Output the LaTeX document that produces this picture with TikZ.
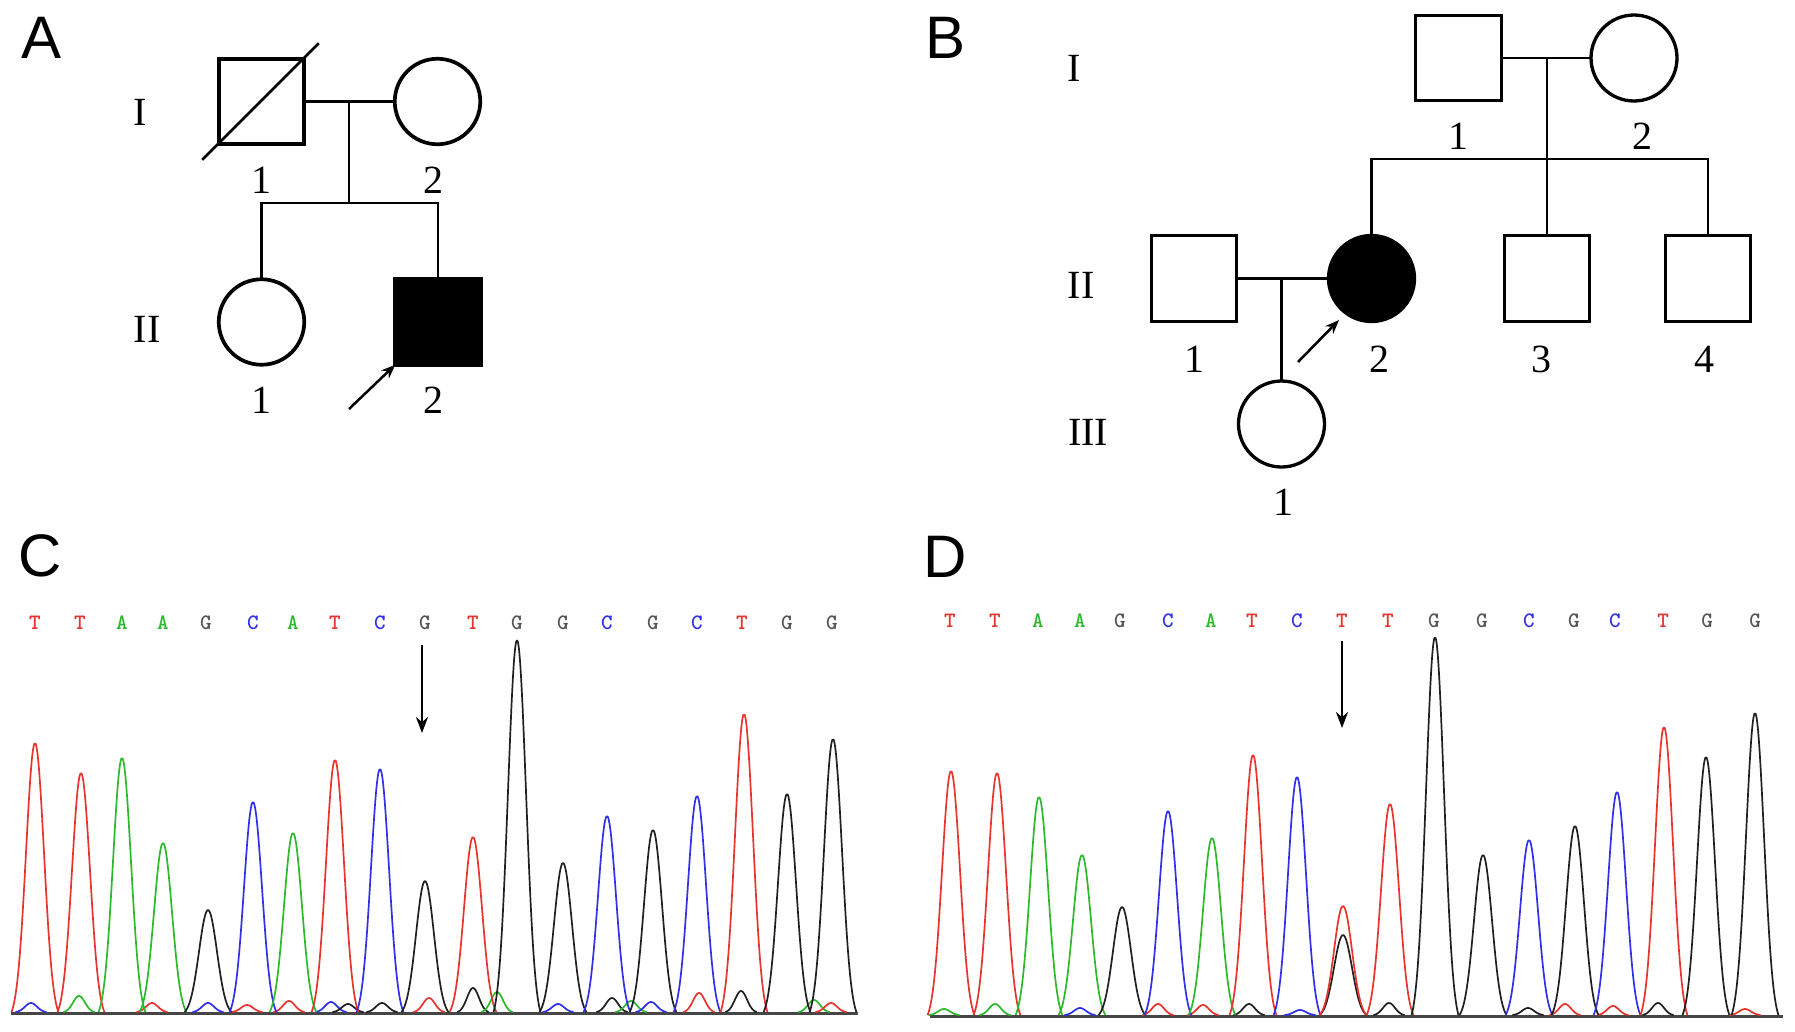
\documentclass[tikz,border=0pt]{standalone}
\usepackage{fontspec}
\setmainfont{Liberation Serif}
\newfontfamily\panelfont{Liberation Sans}
\usetikzlibrary{arrows.meta,calc}
\definecolor{tred}{RGB}{232,52,46}
\definecolor{tgreen}{RGB}{44,186,44}
\definecolor{tblue}{RGB}{48,48,232}
\definecolor{tblack}{RGB}{32,32,32}
\definecolor{tgl}{RGB}{85,85,85}
\definecolor{tgray}{RGB}{70,70,70}
\newcommand{\pk}[5]{\draw[trace,draw=#1] plot[variable=\u,domain=-2.6:2.6,samples=40,smooth] ({#2+#5*\u},{#4-(#4-#3)*(exp(-(\u)*(\u)/2)-0.034)/0.966});}
\begin{document}
\begin{tikzpicture}[x=1pt,y=-1pt,
  sym/.style={draw=black, line width=3.7pt, inner sep=0pt, outer sep=0pt},
  male/.style={sym, rectangle, minimum size=85.5pt},
  female/.style={sym, circle, minimum size=85.5pt},
  maleB/.style={sym, line width=3.3pt, rectangle, minimum size=85.5pt},
  femaleB/.style={sym, line width=3.3pt, circle, minimum size=86pt},
  aff/.style={fill=black},
  pline/.style={line width=2.8pt},
  parrow/.style={line width=2.5pt, -{Stealth[length=14pt,width=11pt]}},
  lbl/.style={inner sep=0pt, font=\fontsize{40}{40}\selectfont},
  panel/.style={inner sep=0pt, font=\panelfont\fontsize{60}{60}\selectfont},
  base/.style={inner sep=0pt, font=\ttfamily\bfseries\fontsize{22}{22}\selectfont},
  trace/.style={line width=1.7pt, line join=round},
  baseln/.style={line width=3pt, draw=tgray},
  carrow/.style={line width=2.6pt, -{Stealth[length=16pt,width=12pt]}}]
\useasboundingbox (0,0) rectangle (1795,1031);
\fill[white] (0,0) rectangle (1795,1031);

% ---------- Panel A ----------
\node[panel] (pA) at (42,38) {A};
\node[male] (aI1) at (261.5,101.5) {};
\node[female] (aI2) at (437.5,101.5) {};
\node[female] (aII1) at (261.5,322) {};
\node[male,aff] (aII2) at (438,322) {};
\draw[line width=2.8pt] ($(aI1.south west)+(-16.5,15.5)$) -- ($(aI1.north east)+(14.5,-15.5)$);
\draw[pline] (aI1.east) -- (aI2.west);
\coordinate (am) at (349,101.5);
\coordinate (as) at (349,203);
\draw[pline] (am) -- (as);
\draw[pline] (aII1.north) |- (as) -| (aII2.north);
\coordinate (aar) at (349,409);
\draw[parrow] (aar) -- (aII2.south west);
\node[lbl] (aLI) at (140,112) {I};
\node[lbl] (aLII) at (147,329) {II};
\node[lbl] (an1) at (261,180) {1};
\node[lbl] (an2) at (433,180) {2};
\node[lbl] (an3) at (261,400) {1};
\node[lbl] (an4) at (433,400) {2};

% ---------- Panel B ----------
\node[panel] (pB) at (945,38) {B};
\node[maleB] (bI1) at (1458.5,58) {};
\node[femaleB] (bI2) at (1634,58) {};
\node[maleB] (bII1) at (1194,278.5) {};
\node[femaleB,aff] (bII2) at (1371.5,278.5) {};
\node[maleB] (bII3) at (1547,278.5) {};
\node[maleB] (bII4) at (1708,278.5) {};
\node[femaleB] (bIII1) at (1281.5,424) {};
\draw[pline] (bI1.east) -- (bI2.west);
\coordinate (bm) at (1547,58);
\coordinate (bs) at (1547,159);
\draw[pline] (bm) -- (bII3.north);
\draw[pline] (bII2.north) |- (bs) -| (bII4.north);
\draw[pline] (bII1.east) -- (bII2.west);
\coordinate (bm2) at (1281.5,278.5);
\draw[pline] (bm2) -- (bIII1.north);
\coordinate (bar) at (1298,362);
\coordinate (bah) at (1339,320);
\draw[parrow] (bar) -- (bah);
\node[lbl] (bLI) at (1074,68) {I};
\node[lbl] (bLII) at (1081,285) {II};
\node[lbl] (bLIII) at (1088,432) {III};
\node[lbl] (bn1) at (1458,136) {1};
\node[lbl] (bn2) at (1642,136) {2};
\node[lbl] (bn3) at (1194,359) {1};
\node[lbl] (bn4) at (1379,359) {2};
\node[lbl] (bn5) at (1541,359) {3};
\node[lbl] (bn6) at (1704,359) {4};
\node[lbl] (bn7) at (1283,502) {1};

% ---------- Panel C ----------
\node[panel] (pC) at (40,556) {C};
\foreach \bl/\bc/\bx [count=\i] in {T/tred/35, T/tred/80, A/tgreen/122, A/tgreen/163, G/tgl/206, C/tblue/253, A/tgreen/293, T/tred/335, C/tblue/380, G/tgl/425, T/tred/473, G/tgl/517, G/tgl/563, C/tblue/607, G/tgl/653, C/tblue/697, T/tred/742, G/tgl/787, G/tgl/832}
  {\node[base, text=\bc] (cb\i) at (\bx,623) {\bl};}
\coordinate (cbl) at (11,1013);
\coordinate (cbr) at (858,1013);
\draw[baseln] (cbl) -- (cbr);
\foreach \pc/\px/\ph in {tblue/31/1003, tgreen/79/996, tred/152/1003, tblue/208/1003, tred/247/1005, tred/289/1001, tblue/331/1002, tblack/348/1004, tblack/382/1003, tred/429/998, tblack/473/988, tgreen/497/992, tblue/558/1004, tblack/612/998, tgreen/631/1001, tblue/651/1002, tred/699/993, tblack/741/991, tgreen/814/1000, tred/831/1003}
  {\pk{\pc}{\px}{\ph}{1012}{6}}
\foreach \pc/\px/\ph in {tred/35/743, tred/81/773, tgreen/122/758, tgreen/163/843, tblack/208/910, tblue/253/802, tgreen/293/833, tred/335/760, tblue/380/769, tblack/425/881, tred/473/837, tblack/517/640, tblack/563/863, tblue/607/816, tblack/653/830, tblue/697/796, tred/744/714, tblack/787/794, tblack/833/739}
  {\pk{\pc}{\px}{\ph}{1012}{9}}
\coordinate (cat) at (422,645);
\coordinate (cah) at (422,733);
\draw[carrow] (cat) -- (cah);

% ---------- Panel D ----------
\node[panel] (pD) at (945,557) {D};
\foreach \bl/\bc/\bx [count=\i] in {T/tred/950, T/tred/995, A/tgreen/1038, A/tgreen/1080, G/tgl/1120, C/tblue/1168, A/tgreen/1211, T/tred/1252, C/tblue/1297, T/tred/1342, T/tred/1388, G/tgl/1434, G/tgl/1482, C/tblue/1529, G/tgl/1574, C/tblue/1615, T/tred/1663, G/tgl/1707, G/tgl/1755}
  {\node[base, text=\bc] (db\i) at (\bx,621) {\bl};}
\coordinate (dbl) at (930,1016);
\coordinate (dbr) at (1783,1016);
\draw[baseln] (dbl) -- (dbr);
\foreach \pc/\px/\ph in {tgreen/944/1009, tgreen/995/1004, tblue/1080/1008, tred/1158/1004, tred/1203/1005, tblack/1249/1004, tblue/1300/1010, tblack/1389/1003, tblack/1528/1008, tred/1565/1004, tred/1613/1006, tblack/1658/1003, tred/1745/1009}
  {\pk{\pc}{\px}{\ph}{1015}{6}}
\foreach \pc/\px/\ph in {tred/951/771, tred/997/773, tgreen/1039/797, tgreen/1082/855, tblack/1122/907, tblue/1168/811, tgreen/1212/838, tred/1253/755, tblue/1297/777, tblack/1343/935, tred/1343/906, tred/1390/804, tblack/1435/637, tblack/1483/855, tblue/1529/840, tblack/1575/826, tblue/1617/792, tred/1664/727, tblack/1706/757, tblack/1755/713}
  {\pk{\pc}{\px}{\ph}{1015}{9}}
\coordinate (dat) at (1342,641);
\coordinate (dah) at (1342,728);
\draw[carrow] (dat) -- (dah);
\end{tikzpicture}
\end{document}
